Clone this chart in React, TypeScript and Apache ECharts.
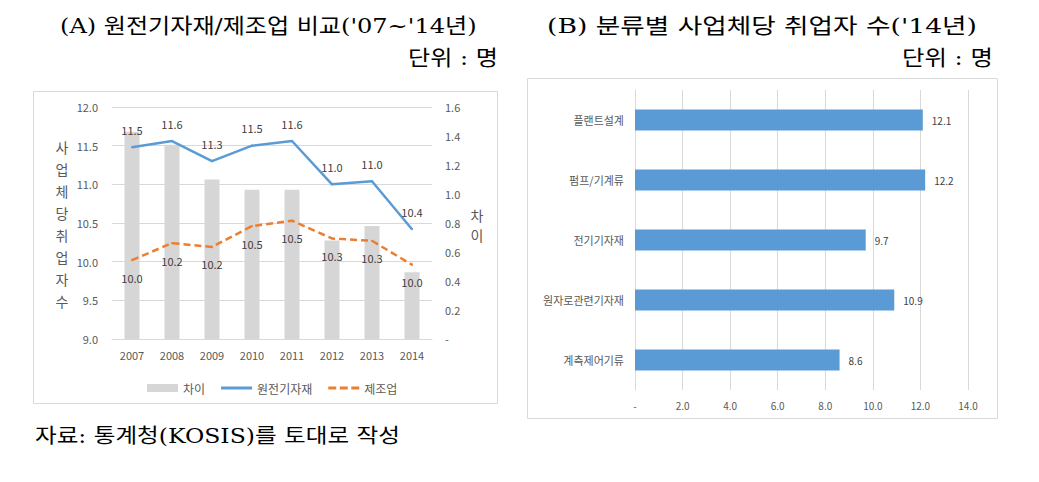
import React, { useEffect, useRef } from "react";
import * as echarts from "echarts";

const years = ["2007", "2008", "2009", "2010", "2011", "2012", "2013", "2014"];
const diffValues = [1.43, 1.34, 1.1, 1.03, 1.03, 0.68, 0.78, 0.46];
const nuclearValues = [11.48, 11.56, 11.3, 11.5, 11.56, 11.0, 11.04, 10.42];
const mfgValues = [10.02, 10.24, 10.19, 10.46, 10.53, 10.3, 10.27, 9.96];
const leftTicks = [9, 12, 0.5];
const rightTicks = [0, 1.6, 0.2];

const categories = ["플랜트설계", "펌프/기계류", "전기기자재", "원자로관련기자재", "계측제어기류"];
const categoryValues = [12.1, 12.2, 9.7, 10.9, 8.6];
const barTicks = [0, 14, 2];

const SANS = "'Noto Sans CJK KR', 'Noto Sans', sans-serif";
const SERIF = "'DejaVu Serif', 'Noto Sans CJK KR', serif";
const GRID_COLOR = "#d9d9d9";
const TICK_COLOR = "#595959";
const LABEL_COLOR = "#404040";

function measure(t: string, size: number, family: string) {
  const ctx = document.createElement("canvas").getContext("2d")!;
  ctx.font = `${size}px ${family}`;
  return ctx.measureText(t).width;
}

export default function App() {
  const ref = useRef<HTMLDivElement>(null);
  useEffect(() => {
    document.body.style.margin = "0";
    const chart = echarts.init(ref.current!, undefined, { renderer: "svg" });
    const fmt1 = (v: number) => (v === 0 ? "-" : v.toFixed(1));
    const text = (t: string, x: number, y: number, size: number, family: string, align = "left", color = "#000", extra: any = {}, scaleX = 1) => ({
      type: "text",
      x,
      y,
      scaleX,
      silent: true,
      style: { text: t, fill: color, fontSize: size, fontFamily: family, align, verticalAlign: "middle", ...extra },
    });
    const fitText = (t: string, x: number, y: number, size: number, width: number, align = "left") =>
      text(t, x, y, size, SERIF, align, "#000", {}, width / measure(t, size, SERIF));
    chart.setOption({
      animation: false,
      backgroundColor: "#ffffff",
      graphic: [
        { type: "rect", shape: { x: 33.5, y: 91.5, width: 464, height: 312 }, style: { fill: "none", stroke: GRID_COLOR, lineWidth: 1 }, silent: true, z: -1 },
        { type: "rect", shape: { x: 527.5, y: 78.5, width: 470, height: 340 }, style: { fill: "none", stroke: GRID_COLOR, lineWidth: 1 }, silent: true, z: -1 },
        fitText("(A) 원전기자재/제조업 비교('07~'14년)", 60, 26, 21, 417),
        fitText("단위 : 명", 498, 58, 21, 90, "right"),
        fitText("(B) 분류별 사업체당 취업자 수('14년)", 547, 26, 21, 430),
        fitText("단위 : 명", 993, 58, 21, 91, "right"),
        fitText("자료: 통계청(KOSIS)를 토대로 작성", 35, 436, 20, 365),
        text("사\n업\n체\n당\n취\n업\n자\n수", 62, 224, 14, SANS, "center", TICK_COLOR, { lineHeight: 22 }),
        text("차\n이", 477, 225, 14, SANS, "center", TICK_COLOR, { lineHeight: 20 }),
      ],
      legend: {
        data: [
          { name: "차이", icon: "rect" },
          { name: "원전기자재", icon: "path://M0,0H31V3H0Z" },
          { name: "제조업", icon: "path://M0,0H8V3H0Z M11.5,0H19.5V3H11.5Z M23,0H31V3H23Z" },
        ],
        left: 142,
        top: 377,
        itemWidth: 31,
        itemHeight: 8,
        itemGap: 16,
        symbolKeepAspect: true,
        textStyle: { fontSize: 12, color: TICK_COLOR, fontFamily: SANS },
      },
      grid: [
        { left: 112, top: 107, width: 320, height: 232 },
        { left: 635, top: 90, width: 333, height: 300 },
      ],
      xAxis: [
        {
          gridIndex: 0,
          type: "category",
          data: years,
          axisLine: { lineStyle: { color: GRID_COLOR } },
          axisTick: { show: false },
          axisLabel: { color: TICK_COLOR, fontSize: 11, fontFamily: SANS, margin: 10 },
        },
        {
          gridIndex: 1,
          type: "value",
          min: barTicks[0],
          max: barTicks[1],
          interval: barTicks[2],
          axisLine: { show: false },
          axisTick: { show: false },
          splitLine: { lineStyle: { color: GRID_COLOR } },
          axisLabel: { color: TICK_COLOR, fontSize: 10, fontFamily: SANS, margin: 10, formatter: fmt1 },
        },
      ],
      yAxis: [
        {
          gridIndex: 0,
          type: "value",
          min: leftTicks[0],
          max: leftTicks[1],
          interval: leftTicks[2],
          axisLine: { show: false },
          axisTick: { show: false },
          splitLine: { lineStyle: { color: GRID_COLOR } },
          axisLabel: { color: TICK_COLOR, fontSize: 11, fontFamily: SANS, margin: 14, formatter: (v: number) => v.toFixed(1) },
        },
        {
          gridIndex: 0,
          type: "value",
          position: "right",
          min: rightTicks[0],
          max: rightTicks[1],
          interval: rightTicks[2],
          axisLine: { show: false },
          axisTick: { show: false },
          splitLine: { show: false },
          axisLabel: { color: TICK_COLOR, fontSize: 11, fontFamily: SANS, margin: 13, formatter: fmt1 },
        },
        {
          gridIndex: 1,
          type: "category",
          inverse: true,
          data: categories,
          axisLine: { lineStyle: { color: GRID_COLOR } },
          axisTick: { show: false },
          axisLabel: { color: TICK_COLOR, fontSize: 11, fontFamily: SANS, margin: 11 },
        },
      ],
      series: [
        {
          name: "차이",
          type: "bar",
          xAxisIndex: 0,
          yAxisIndex: 1,
          data: diffValues,
          barWidth: 15,
          itemStyle: { color: "#d6d6d6" },
        },
        {
          name: "원전기자재",
          type: "line",
          xAxisIndex: 0,
          yAxisIndex: 0,
          data: nuclearValues,
          symbol: "circle",
          symbolSize: 2,
          lineStyle: { color: "#5b9bd5", width: 2.5 },
          itemStyle: { color: "#5b9bd5" },
          label: { show: true, position: "top", distance: 11, color: LABEL_COLOR, fontSize: 11, fontFamily: SANS, formatter: (p: any) => p.value.toFixed(1) },
        },
        {
          name: "제조업",
          type: "line",
          xAxisIndex: 0,
          yAxisIndex: 0,
          data: mfgValues,
          symbol: "circle",
          symbolSize: 2,
          lineStyle: { color: "#ed7d31", width: 2.5, type: [7, 4] },
          itemStyle: { color: "#ed7d31" },
          label: { show: true, position: "bottom", distance: 11, color: LABEL_COLOR, fontSize: 11, fontFamily: SANS, formatter: (p: any) => p.value.toFixed(1) },
        },
        {
          name: "분류별",
          type: "bar",
          xAxisIndex: 1,
          yAxisIndex: 2,
          data: categoryValues,
          barWidth: 21,
          itemStyle: { color: "#5b9bd5" },
          label: { show: true, position: "right", distance: 9, color: LABEL_COLOR, fontSize: 10, fontFamily: SANS, formatter: (p: any) => p.value.toFixed(1) },
        },
      ],
    });
    return () => chart.dispose();
  }, []);
  return <div ref={ref} style={{ width: 1039, height: 482 }} />;
}
